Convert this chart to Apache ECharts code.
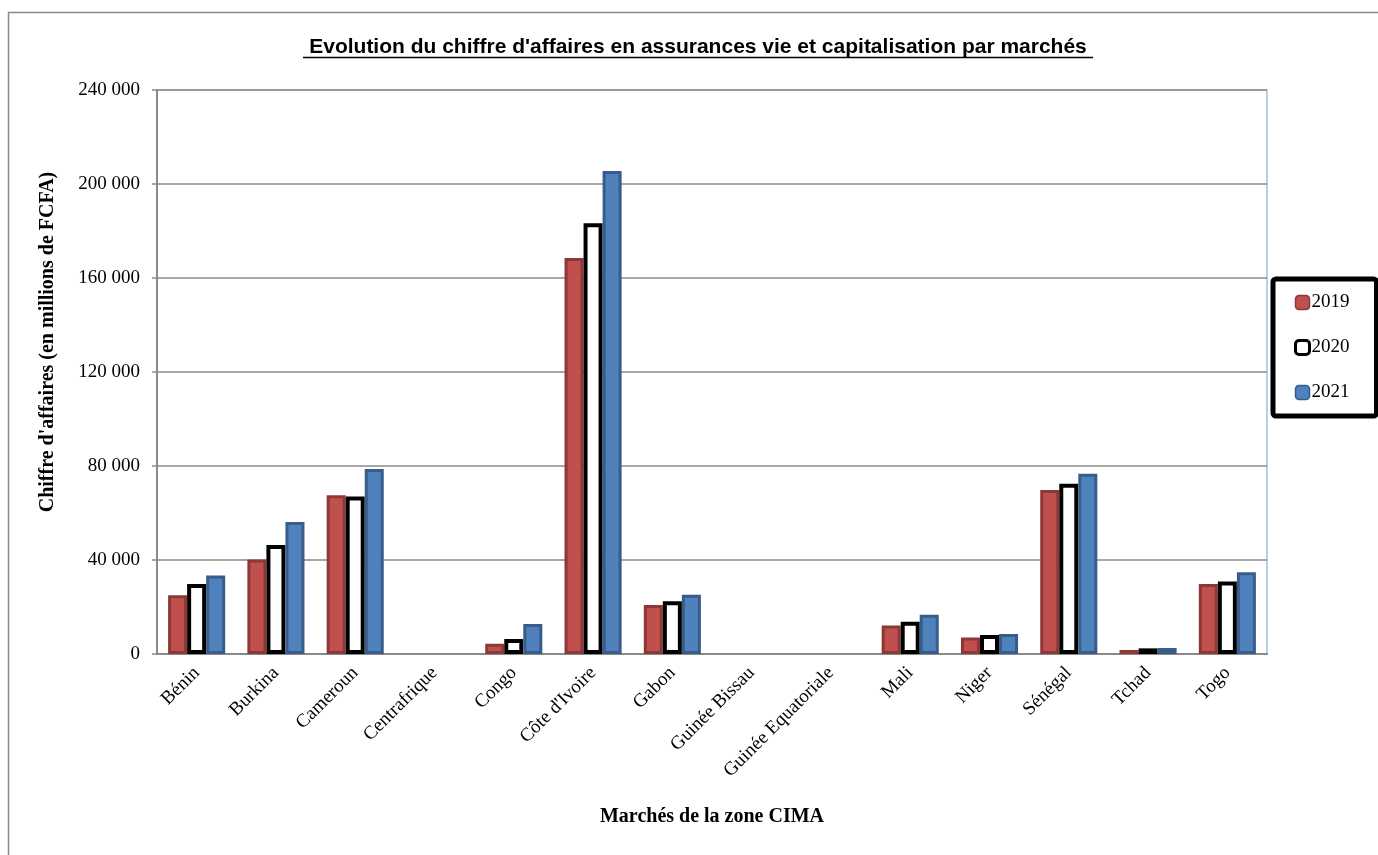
<!DOCTYPE html>
<html>
<head>
<meta charset="utf-8">
<script src="https://cdn.jsdelivr.net/npm/echarts@6/dist/echarts.min.js"></script>
<style>
html,body{margin:0;padding:0;background:#fff;}
#chart{width:1378px;height:855px;}
</style>
</head>
<body>
<div id="chart"></div>
<script>
var categories = ['Bénin','Burkina','Cameroun','Centrafrique','Congo',"Côte d'Ivoire",'Gabon','Guinée Bissau','Guinée Equatoriale','Mali','Niger','Sénégal','Tchad','Togo'];
var years = ['2019','2020','2021'];
var v2019 = [25000, 40200, 67600, null, 4400, 168500, 20800, null, null, 12100, 7000, 69800, 1700, 29800];
var v2020 = [29800, 46400, 67000, null, 6400, 183300, 22500, null, null, 13700, 8100, 72400, 2400, 30900];
var v2021 = [33400, 56200, 78700, null, 12800, 205500, 25200, null, null, 16700, 8500, 76700, 2600, 34800];
var yTicks = [0, 40000, 80000, 120000, 160000, 200000, 240000];

var chart = echarts.init(document.getElementById('chart'));
var serif = '"Liberation Serif", "DejaVu Serif", serif';
function fmt(v){ return String(v).replace(/\B(?=(\d{3})+(?!\d))/g, ' '); }

var styles = [
  {color:'#C0504D', borderColor:'#8C3836', borderWidth:3},
  {color:'#FFFFFF', borderColor:'#000000', borderWidth:4},
  {color:'#4F81BD', borderColor:'#385D8A', borderWidth:3}
];
var values = [v2019, v2020, v2021];

chart.setOption({
  animation:false,
  backgroundColor:'#fff',
  graphic:[
    {type:'rect', shape:{x:8.5,y:12.5,width:1400,height:900}, style:{fill:'none', stroke:'#8a8a8a', lineWidth:1.5}, z:-1},
    {type:'text', x:698, y:47, style:{text:"Evolution du chiffre d'affaires en assurances vie et capitalisation par marchés", font:'bold 21px "Liberation Sans", Arial, sans-serif', fill:'#000', align:'center', verticalAlign:'middle'}},
    {type:'line', shape:{x1:303,y1:57.5,x2:1093,y2:57.5}, style:{stroke:'#000', lineWidth:1.5}},
    {type:'text', x:48, y:342, rotation:Math.PI/2, style:{text:"Chiffre d'affaires (en millions de FCFA)", font:'bold 20px ' + serif, fill:'#000', align:'center', verticalAlign:'middle'}}
  ],
  legend:{
    orient:'vertical',
    left:1273, top:279,
    padding:[14,27,14,21],
    itemGap:26,
    itemWidth:14, itemHeight:14,
    icon:'roundRect',
    borderColor:'#000', borderWidth:5, borderRadius:3,
    backgroundColor:'#fff',
    textStyle:{fontFamily:serif, fontSize:19, color:'#000', padding:[0,0,0,-3]},
    data:[
      {name:'2019', itemStyle:{color:'#C0504D', borderColor:'#8C3836', borderWidth:1.5}},
      {name:'2020', itemStyle:{color:'#fff', borderColor:'#000', borderWidth:3}},
      {name:'2021', itemStyle:{color:'#4F81BD', borderColor:'#385D8A', borderWidth:1.5}}
    ]
  },
  grid:{left:157, top:90, right:111, bottom:201, show:true, borderColor:'#A7BDE2', borderWidth:1.5},
  xAxis:{
    type:'category',
    data:categories,
    name:'Marchés de la zone CIMA',
    nameLocation:'middle',
    nameGap:153,
    nameTextStyle:{fontFamily:serif, fontSize:20, fontWeight:'bold', color:'#000'},
    axisLine:{lineStyle:{color:'#8a8a8a', width:2}},
    axisTick:{show:false},
    axisLabel:{rotate:45, margin:16, fontFamily:serif, fontSize:19, color:'#000', interval:0}
  },
  yAxis:{
    type:'value',
    min:0, max:240000, interval:40000,
    axisLine:{show:true, lineStyle:{color:'#8a8a8a', width:2}},
    axisTick:{show:true, length:5, lineStyle:{color:'#8a8a8a', width:1.5}},
    axisLabel:{margin:17, fontFamily:serif, fontSize:19, color:'#000', formatter:function(v){return yTicks.indexOf(v)>=0 ? fmt(v) : '';}},
    splitLine:{lineStyle:{color:'#8a8a8a', width:1.5}}
  },
  series: years.map(function(y,i){
    return {
      name:y, type:'bar', data:values[i],
      barGap:'0%', barCategoryGap:'28%',
      itemStyle:styles[i]
    };
  })
});
</script>
</body>
</html>
